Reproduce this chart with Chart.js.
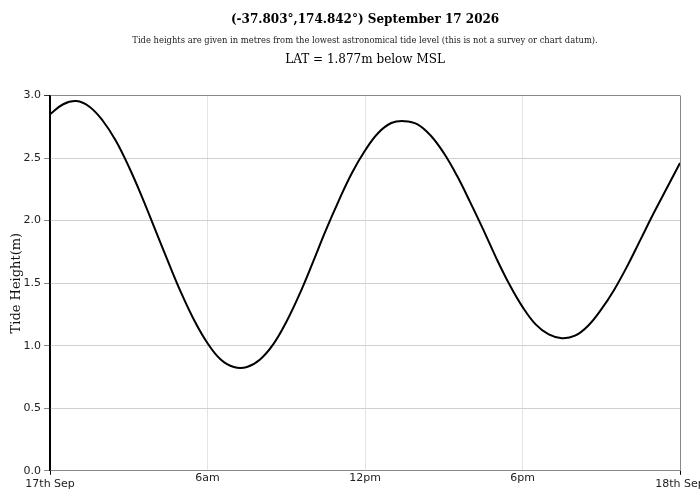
<!DOCTYPE html>
<html>
<head>
<meta charset="utf-8">
<script src="https://cdn.jsdelivr.net/npm/chart.js@4.4.1/dist/chart.umd.min.js"></script>
<style>
  html, body { margin: 0; padding: 0; background: #fff; }
  #wrap { width: 700px; height: 500px; }
</style>
</head>
<body>
<div id="wrap"><canvas id="tide"></canvas></div>
<script>
// hours since midnight, 17 Sep 2026
const hours = [
  0, 0.5, 1, 1.5, 2, 2.5, 3, 3.5, 4, 4.5, 5, 5.5, 6, 6.5, 7, 7.5,
  8, 8.5, 9, 9.5, 10, 10.5, 11, 11.5, 12, 12.5, 13, 13.5, 14, 14.5, 15, 15.5,
  16, 16.5, 17, 17.5, 18, 18.5, 19, 19.5, 20, 20.5, 21, 21.5, 22, 22.5, 23, 23.5, 24
];
// tide height above LAT (m)
const heights = [
  2.85, 2.93, 2.955, 2.91, 2.80, 2.64, 2.43, 2.19, 1.93, 1.67, 1.42, 1.20, 1.02, 0.89, 0.83, 0.83,
  0.89, 1.01, 1.19, 1.41, 1.66, 1.92, 2.16, 2.38, 2.56, 2.70, 2.78, 2.795, 2.77, 2.68, 2.54, 2.36,
  2.15, 1.93, 1.70, 1.49, 1.31, 1.17, 1.09, 1.06, 1.08, 1.16, 1.29, 1.45, 1.64, 1.85, 2.06, 2.26, 2.46
];
const xTicks = [0, 6, 12, 18, 24];
const xTickLabels = ['17th Sep', '6am', '12pm', '6pm', '18th Sep'];

const titleText = '(-37.803°,174.842°) September 17 2026';
const subtitleText = 'Tide heights are given in metres from the lowest astronomical tide level (this is not a survey or chart datum).';
const latText = 'LAT = 1.877m below MSL';

const serif = "'DejaVu Serif', serif";
const sans = "'DejaVu Sans', sans-serif";

// third header line, centred over the plot like the other two
const latLine = {
  id: 'latLine',
  afterDraw(chart) {
    const { ctx, chartArea } = chart;
    ctx.save();
    ctx.font = '12px ' + serif;
    ctx.fillStyle = '#000';
    ctx.textAlign = 'center';
    ctx.textBaseline = 'middle';
    ctx.fillText(latText, (chartArea.left + chartArea.right) / 2, 60);
    ctx.restore();
  }
};

const isDay = (v) => v === 0 || v === 24;

new Chart(document.getElementById('tide'), {
  type: 'line',
  data: {
    datasets: [{
      data: hours.map((h, i) => ({ x: h, y: heights[i] })),
      borderColor: '#000',
      borderWidth: 2,
      pointRadius: 0,
      tension: 0.4,
      fill: false
    }]
  },
  options: {
    responsive: true,
    maintainAspectRatio: false,
    animation: false,
    layout: { padding: { bottom: 7 } },
    plugins: {
      legend: { display: false },
      tooltip: { enabled: false },
      title: {
        display: true,
        text: titleText,
        fullSize: false,
        color: '#000',
        font: { family: serif, size: 12, weight: 'bold' },
        padding: { top: 13, bottom: 8 }
      },
      subtitle: {
        display: true,
        text: subtitleText,
        fullSize: false,
        color: '#222',
        font: { family: serif, size: 8.4 },
        padding: { top: 0, bottom: 50 }
      }
    },
    scales: {
      x: {
        type: 'linear',
        min: 0,
        max: 24,
        afterBuildTicks: (scale) => { scale.ticks = xTicks.map(v => ({ value: v })); },
        // let the last date label run off the edge, as in the original
        afterFit: (scale) => { scale.paddingRight = 20; },
        ticks: {
          autoSkip: false,
          maxRotation: 0,
          padding: -3,
          color: '#222',
          font: (ctx) => ({ family: sans, size: 11, lineHeight: ctx.tick && isDay(ctx.tick.value) ? 2.2 : 1.2 }),
          callback: (v) => xTickLabels[xTicks.indexOf(v)]
        },
        grid: {
          color: (ctx) => ctx.tick.value === 0 ? '#000' : ctx.tick.value === 24 ? '#888' : '#e3e3e3',
          tickColor: (ctx) => isDay(ctx.tick.value) ? '#000' : 'rgba(0,0,0,0)',
          tickLength: 4
        },
        border: { color: '#888', width: 1 }
      },
      y: {
        min: 0,
        max: 3,
        ticks: {
          stepSize: 0.5,
          padding: 3,
          color: '#222',
          font: { family: sans, size: 11 },
          callback: (v) => v.toFixed(1)
        },
        grid: {
          color: (ctx) => ctx.tick.value === 3 ? '#888' : '#d0d0d0',
          tickColor: (ctx) => ctx.tick.value === 3 ? '#333' : '#888',
          tickLength: 6
        },
        border: { color: '#000', width: 1.5 },
        title: {
          display: true,
          text: 'Tide Height(m)',
          color: '#111',
          font: { family: serif, size: 13 },
          padding: { top: 9, bottom: -4 }
        }
      }
    }
  },
  plugins: [latLine]
});
</script>
</body>
</html>
